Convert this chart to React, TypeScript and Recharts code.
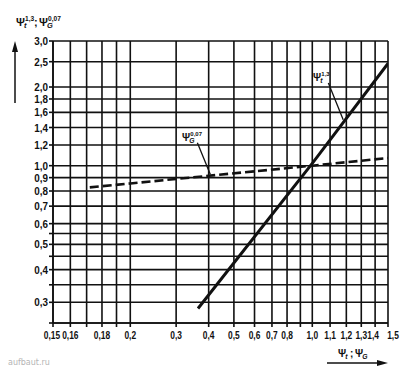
import React from 'react';
import { LineChart, Line, XAxis, YAxis, CartesianGrid, ReferenceLine } from 'recharts';

// ---- axis ticks / labels ----
const X_TICKS = [0.15, 0.16, 0.17, 0.18, 0.19, 0.2, 0.3, 0.4, 0.5, 0.6, 0.7, 0.8, 0.9, 1.0, 1.1, 1.2, 1.3, 1.4, 1.5];
const X_TICK_LABELS = ['0,15', '0,16', '', '0,18', '', '0,2', '0,3', '0,4', '0,5', '0,6', '0,7', '0,8', '', '1,0', '1,1', '1,2', '1,3', '1,4', '1,5'];
const Y_TICKS = [0.25, 0.3, 0.35, 0.4, 0.45, 0.5, 0.55, 0.6, 0.7, 0.8, 0.9, 1.0, 1.2, 1.4, 1.6, 1.8, 2.0, 2.5, 3.0];
const Y_TICK_LABELS = ['', '0,3', '', '0,4', '', '0,5', '', '0,6', '0,7', '0,8', '0,9', '1,0', '1,2', '1,4', '1,6', '1,8', '2,0', '2,5', '3,0'];

// ---- series ----
const PSI_T_X = [0.364, 1.0, 1.5];
const PSI_T_Y = [0.284, 1.02, 2.46];
const PSI_G_X = [0.172, 0.2, 1.0, 1.5];
const PSI_G_Y = [0.826, 0.855, 1.0, 1.07];

// ---- annotation leader lines (data coordinates) ----
const LEADER_T = [{ x: 1.09, y: 2.07 }, { x: 1.18, y: 1.5 }];
const LEADER_G = [{ x: 0.362, y: 1.225 }, { x: 0.406, y: 0.925 }];

// printed x axis is a non-uniform logarithmic scale: breakpoints and their share of the width
const X_BREAKS = [0.15, 0.2, 1.0, 1.5];
const X_SEG_SHARE = [0.2307, 0.5433, 0.226];

const psiTData = PSI_T_X.map((x, i) => ({ x, y: PSI_T_Y[i] }));
const psiGData = PSI_G_X.map((x, i) => ({ x, y: PSI_G_Y[i] }));

function piecewiseLog(breaks: number[], shares: number[], dom?: number[], rng?: number[]): any {
  const lb = breaks.map((b) => Math.log10(b));
  const total = shares.reduce((a, b) => a + b, 0);
  const cum = [0];
  shares.forEach((s) => cum.push(cum[cum.length - 1] + s / total));
  let d = dom ? dom.slice() : [breaks[0], breaks[breaks.length - 1]];
  let r = rng ? rng.slice() : [0, 1];
  const T = (v: number) => {
    const lv = Math.log10(v);
    let i = 0;
    while (i < lb.length - 2 && lv > lb[i + 1]) i++;
    return cum[i] + ((cum[i + 1] - cum[i]) * (lv - lb[i])) / (lb[i + 1] - lb[i]);
  };
  const scale: any = (v: number) => {
    if (v == null || !(Number(v) > 0)) return undefined;
    const t0 = T(Number(d[0]));
    const t1 = T(Number(d[1]));
    return r[0] + ((r[1] - r[0]) * (T(Number(v)) - t0)) / (t1 - t0);
  };
  scale.domain = (nd?: any) => {
    if (nd === undefined) return d.slice();
    d = nd.slice();
    return scale;
  };
  scale.range = (nr?: any) => {
    if (nr === undefined) return r.slice();
    r = nr.slice();
    return scale;
  };
  scale.copy = () => piecewiseLog(breaks, shares, d, r);
  scale.ticks = () => X_TICKS.filter((t) => t >= d[0] && t <= d[1]);
  scale.invert = (px: number) => {
    let lo = Math.log10(d[0]);
    let hi = Math.log10(d[1]);
    for (let k = 0; k < 40; k++) {
      const mid = (lo + hi) / 2;
      const pm = scale(Math.pow(10, mid));
      if ((pm < px) === (r[1] > r[0])) lo = mid;
      else hi = mid;
    }
    return Math.pow(10, (lo + hi) / 2);
  };
  return scale;
}

const xScale = piecewiseLog(X_BREAKS, X_SEG_SHARE);

const INK = '#111';
const TICK_FONT = "'Liberation Sans', Arial, sans-serif";
const PSI_FONT = "'Liberation Sans', Arial, sans-serif";
const X_LABEL_DX: Record<string, number> = { '0.15': -1, '1.4': -2, '1.5': 5 };

const xLabel = (v: number) => {
  const i = X_TICKS.indexOf(v);
  return i >= 0 ? X_TICK_LABELS[i] : '';
};
const yLabel = (v: number) => {
  const i = Y_TICKS.indexOf(v);
  return i >= 0 ? Y_TICK_LABELS[i] : '';
};

function XTick(props: any) {
  const { x, y, payload } = props;
  const label = xLabel(payload.value);
  if (!label) return null;
  const dx = X_LABEL_DX[String(payload.value)] || 0;
  return (
    <g transform={`translate(${x + dx},${y})`}>
      <text
        transform="scale(0.8,1)"
        textAnchor="middle"
        dy="0.75em"
        fontSize={10.5}
        fontWeight="bold"
        fontFamily={TICK_FONT}
        fill={INK}
      >
        {label}
      </text>
    </g>
  );
}

function YTick(props: any) {
  const { x, y, payload } = props;
  const label = yLabel(payload.value);
  if (!label) return null;
  return (
    <g transform={`translate(${x},${y})`}>
      <text
        transform="scale(0.86,1)"
        textAnchor="end"
        dy="0.36em"
        fontSize={11.5}
        fontWeight="bold"
        fontFamily={TICK_FONT}
        fill={INK}
      >
        {label}
      </text>
    </g>
  );
}

function Psi({ x, y, size, sub, sup }: { x: number; y: number; size: number; sub: string; sup?: string }) {
  const w = size * 0.78;
  return (
    <g fill={INK} fontFamily={PSI_FONT}>
      <text x={x} y={y} fontSize={size} fontWeight="bold">Ψ</text>
      {sup ? (
        <text x={x + w + 0.5} y={y - size * 0.5} fontSize={size * 0.6} fontWeight="bold">{sup}</text>
      ) : null}
      <text x={x + w - 0.5} y={y + size * 0.18} fontSize={size * 0.68} fontWeight="bold" fontStyle="italic">{sub}</text>
    </g>
  );
}

export default function App() {
  return (
    <div style={{ position: 'absolute', left: 0, top: 0, width: 413, height: 373, background: '#fff' }}>
      <LineChart width={413} height={373} margin={{ top: 41, right: 25, bottom: 30, left: 8 }}>
        <CartesianGrid stroke={INK} strokeWidth={1.6} />
        <XAxis
          type="number"
          dataKey="x"
          scale={xScale}
          domain={[0.15, 1.5]}
          allowDataOverflow
          ticks={X_TICKS}
          interval={0}
          height={20}
          tickSize={4}
          tickMargin={4}
          axisLine={{ stroke: INK, strokeWidth: 1.6 }}
          tickLine={{ stroke: INK, strokeWidth: 1.6 }}
          tick={<XTick />}
        />
        <YAxis
          type="number"
          dataKey="y"
          scale="log"
          domain={[0.25, 3]}
          allowDataOverflow
          ticks={Y_TICKS}
          interval={0}
          width={45}
          tickSize={4}
          tickMargin={1}
          axisLine={{ stroke: INK, strokeWidth: 1.6 }}
          tickLine={{ stroke: INK, strokeWidth: 1.6 }}
          tick={<YTick />}
        />
        <Line
          data={psiGData}
          dataKey="y"
          stroke={INK}
          strokeWidth={2.6}
          strokeDasharray="9 4"
          dot={false}
          isAnimationActive={false}
        />
        <Line
          data={psiTData}
          dataKey="y"
          stroke={INK}
          strokeWidth={3}
          dot={false}
          isAnimationActive={false}
        />
        <ReferenceLine segment={LEADER_T} stroke={INK} strokeWidth={1.3} ifOverflow="visible" />
        <ReferenceLine segment={LEADER_G} stroke={INK} strokeWidth={1.3} ifOverflow="visible" />
      </LineChart>
      <svg
        width={413}
        height={373}
        style={{ position: 'absolute', left: 0, top: 0, pointerEvents: 'none' }}
      >
        {/* y axis title */}
        <Psi x={16} y={26} size={11} sub="t" sup="1,3" />
        <text x={34} y={26} fontSize={11} fontWeight="bold" fill={INK} fontFamily={PSI_FONT}>;</text>
        <Psi x={39} y={26} size={11} sub="G" sup="0,07" />
        <line x1={15} y1={50} x2={15} y2={103} stroke={INK} strokeWidth={1.5} />
        <polygon points="15,41 12,52 18,52" fill={INK} />

        {/* x axis title */}
        <Psi x={338} y={357} size={10} sub="t" />
        <text x={350} y={357} fontSize={10} fontWeight="bold" fill={INK} fontFamily={PSI_FONT}>;</text>
        <Psi x={355} y={357} size={10} sub="G" />
        <line x1={327} y1={363} x2={380} y2={363} stroke={INK} strokeWidth={1.5} />
        <polygon points="388,363 377,360 377,366" fill={INK} />

        {/* curve labels */}
        <Psi x={313} y={81} size={10} sub="t" sup="1,3" />
        <Psi x={182} y={141} size={10} sub="G" sup="0,07" />

        {/* watermark */}
        <text x={8} y={365} fontSize={8} fill="#b5b5b5" fontFamily="'DejaVu Sans', sans-serif">aufbaut.ru</text>
      </svg>
    </div>
  );
}
